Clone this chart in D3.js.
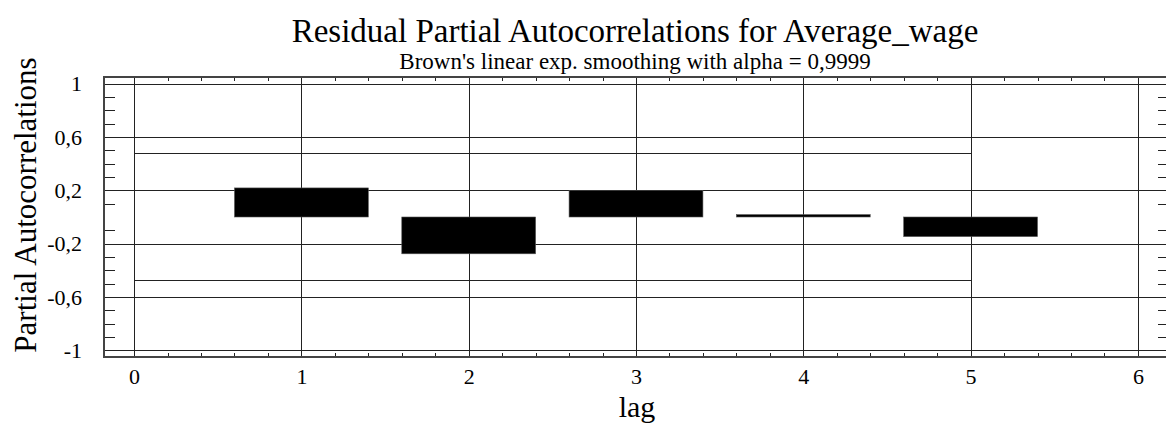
<!DOCTYPE html>
<html>
<head>
<meta charset="utf-8">
<script src="https://cdn.jsdelivr.net/npm/d3@7"></script>
<style>
  body { margin: 0; background: #fff; }
  .domain { display: none; }
</style>
</head>
<body>
<div id="chart"></div>
<script>
/* datos */
const lags = [1, 2, 3, 4, 5];
const pacf = [0.218, -0.276, 0.2, 0.018, -0.147];
const limitLag = [0, 5];
const limitValue = 0.474;
const xTicks = [0, 1, 2, 3, 4, 5, 6];
const yTicks = [-1, -0.6, -0.2, 0.2, 0.6, 1];

const w = 1166;
const h = 424;
const frame = { left: 104, right: 1168, top: 77, bottom: 357 };
const serif = '"Liberation Serif", "Times New Roman", serif';

const svg = d3.select('#chart')
  .append('svg')
  .attr('width', w)
  .attr('height', h)
  .style('font-family', serif);

/* escalas */
const xScale = d3.scaleLinear()
  .domain([-0.18, 6.18])
  .range([frame.left, frame.right]);

const yScale = d3.scaleLinear()
  .domain([-1.05, 1.05])
  .range([frame.bottom, frame.top]);

const fmt = (d) => String(d).replace('.', ',');
const minorY = d3.range(-10, 11).map((d) => d / 10).filter((d) => !yTicks.some((t) => Math.abs(t - d) < 1e-9) && Math.abs(d) > 1e-9);
const minorX = d3.range(0, 31).map((d) => d / 5).filter((d) => Math.abs(d - Math.round(d)) > 1e-9);

const lineColor = '#222';

/* grilla horizontal */
svg.append('g')
  .attr('transform', `translate(${frame.left},0)`)
  .call(d3.axisLeft(yScale).tickValues(yTicks).tickSize(-(frame.right - frame.left)).tickFormat(''))
  .selectAll('line')
  .attr('stroke', lineColor)
  .attr('shape-rendering', 'crispEdges');

/* grilla vertical */
svg.append('g')
  .attr('transform', `translate(0,${frame.bottom})`)
  .call(d3.axisBottom(xScale).tickValues(xTicks).tickSize(-(frame.bottom - frame.top)).tickFormat(''))
  .selectAll('line')
  .attr('stroke', lineColor)
  .attr('shape-rendering', 'crispEdges');

/* ticks menores */
svg.append('g')
  .attr('transform', `translate(${frame.left},0)`)
  .call(d3.axisLeft(yScale).tickValues(minorY).tickSize(-11).tickFormat(''))
  .selectAll('line').attr('stroke', lineColor).attr('shape-rendering', 'crispEdges');

svg.append('g')
  .attr('transform', `translate(${frame.right},0)`)
  .call(d3.axisRight(yScale).tickValues(minorY).tickSize(-10).tickFormat(''))
  .selectAll('line').attr('stroke', lineColor).attr('shape-rendering', 'crispEdges');

svg.append('g')
  .attr('transform', `translate(0,${frame.top})`)
  .call(d3.axisTop(xScale).tickValues(minorX).tickSize(-4).tickFormat(''))
  .selectAll('line').attr('stroke', lineColor).attr('shape-rendering', 'crispEdges');

svg.append('g')
  .attr('transform', `translate(0,${frame.bottom})`)
  .call(d3.axisBottom(xScale).tickValues(minorX).tickSize(-4).tickFormat(''))
  .selectAll('line').attr('stroke', lineColor).attr('shape-rendering', 'crispEdges');

/* marco */
svg.append('rect')
  .attr('x', frame.left)
  .attr('y', frame.top)
  .attr('width', frame.right - frame.left)
  .attr('height', frame.bottom - frame.top)
  .attr('fill', 'none')
  .attr('stroke', '#444')
  .attr('stroke-width', 1.5)
  .attr('shape-rendering', 'crispEdges');

/* limites de confianza */
[limitValue, -limitValue].forEach((v) => {
  svg.append('line')
    .attr('x1', xScale(limitLag[0]))
    .attr('x2', xScale(limitLag[1]))
    .attr('y1', yScale(v))
    .attr('y2', yScale(v))
    .attr('stroke', lineColor)
    .attr('shape-rendering', 'crispEdges');
});

/* barras */
svg.selectAll('rect.bar')
  .data(lags)
  .enter()
  .append('rect')
  .attr('class', 'bar')
  .attr('x', (d) => xScale(d - 0.4))
  .attr('width', xScale(0.8) - xScale(0))
  .attr('y', (d, i) => yScale(Math.max(0, pacf[i])))
  .attr('height', (d, i) => Math.abs(yScale(pacf[i]) - yScale(0)))
  .attr('fill', '#000')
  .attr('stroke', '#555')
  .attr('stroke-width', 0.6);

/* etiquetas de ejes (los atributos de fuente van despues del call) */
svg.append('g')
  .attr('transform', `translate(${frame.left - 19},0)`)
  .call(d3.axisLeft(yScale).tickValues(yTicks).tickSize(0).tickFormat(fmt))
  .attr('font-family', null)
  .attr('font-size', 22);

svg.append('g')
  .attr('transform', `translate(0,${frame.bottom + 8})`)
  .call(d3.axisBottom(xScale).tickValues(xTicks).tickSize(0).tickFormat(fmt))
  .attr('font-family', null)
  .attr('font-size', 22);

/* titulos */
svg.append('text')
  .attr('x', 635)
  .attr('y', 42)
  .attr('text-anchor', 'middle')
  .attr('font-size', 33)
  .text('Residual Partial Autocorrelations for Average_wage');

svg.append('text')
  .attr('x', 635)
  .attr('y', 69)
  .attr('text-anchor', 'middle')
  .attr('font-size', 23)
  .text("Brown's linear exp. smoothing with alpha = 0,9999");

svg.append('text')
  .attr('x', 637)
  .attr('y', 417)
  .attr('text-anchor', 'middle')
  .attr('font-size', 30)
  .text('lag');

svg.append('text')
  .attr('transform', 'translate(36,205) rotate(-90)')
  .attr('text-anchor', 'middle')
  .attr('font-size', 31)
  .text('Partial Autocorrelations');
</script>
</body>
</html>
